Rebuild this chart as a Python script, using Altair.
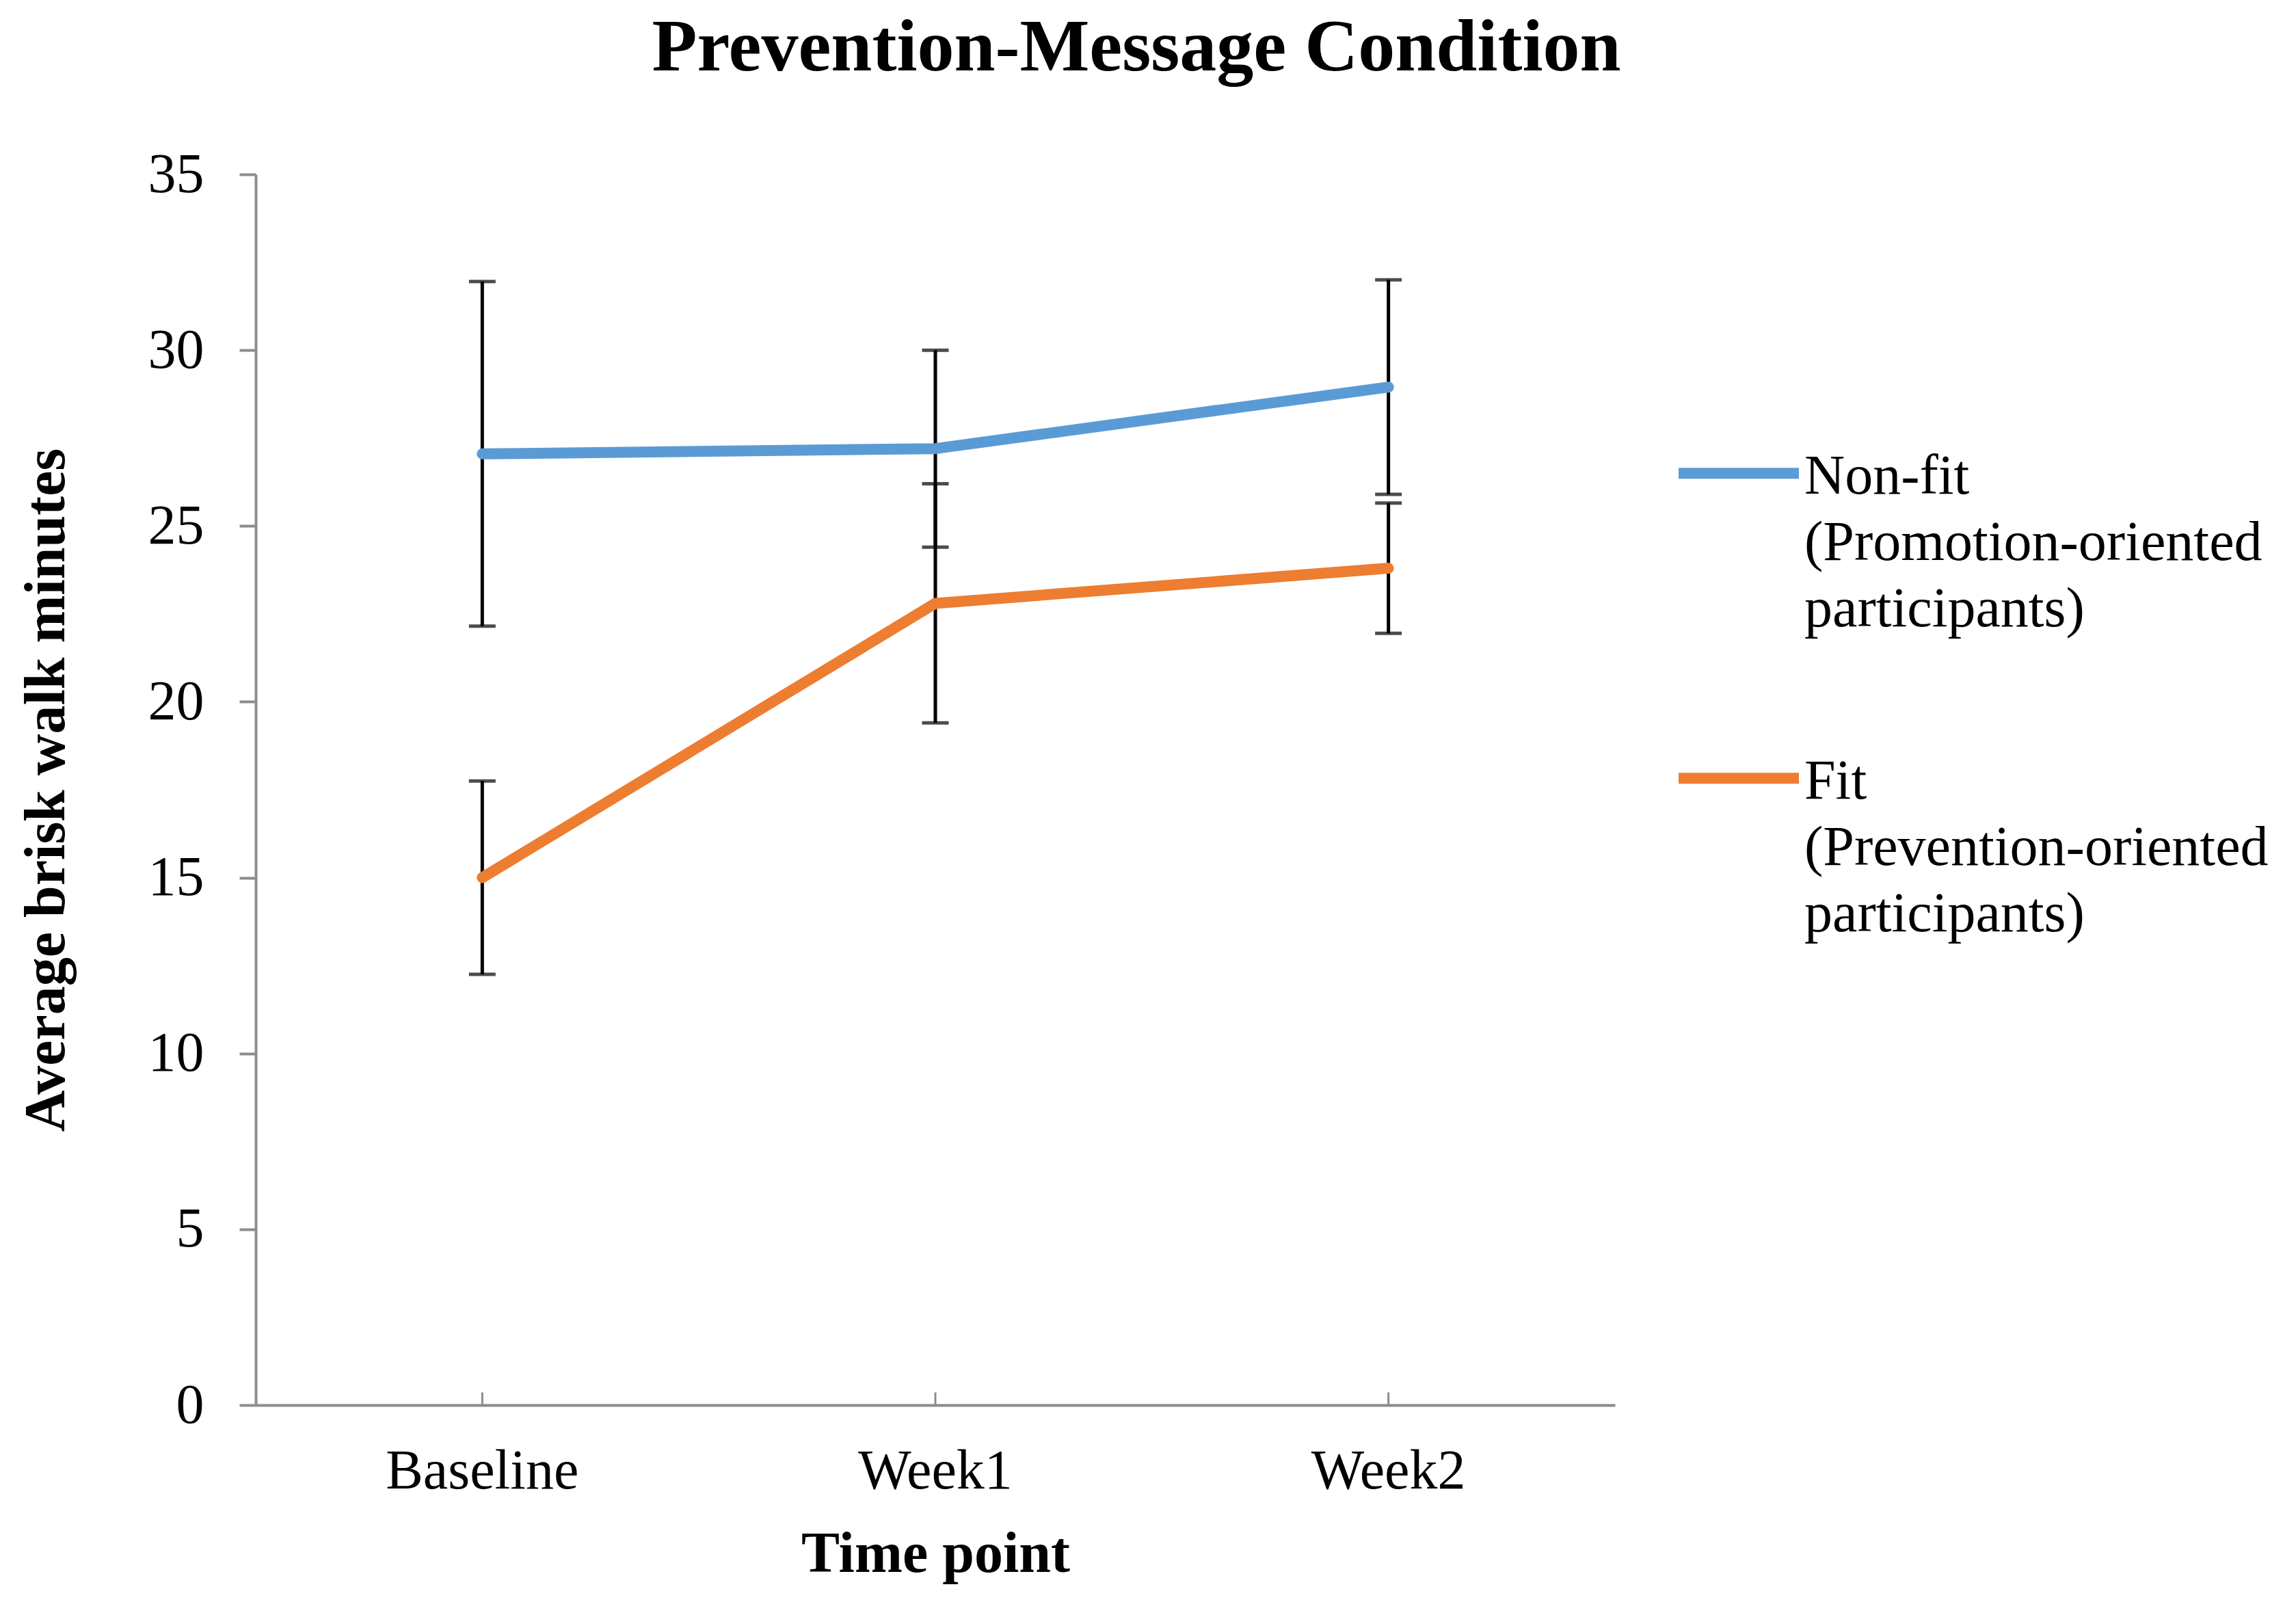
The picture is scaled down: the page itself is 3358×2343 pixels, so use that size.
import altair as alt
import pandas as pd

time_points = ["Baseline", "Week1", "Week2"]
series_names = ["Non-fit\n(Promotion-oriented\nparticipants)", "Fit\n(Prevention-oriented\nparticipants)"]
nonfit_mean = [27.05, 27.2, 28.95]
nonfit_err = [4.9, 2.8, 3.05]
fit_mean = [15.0, 22.8, 23.8]
fit_err = [2.75, 3.4, 1.85]
colors = ["#5B9BD5", "#ED7D31"]
y_ticks = [0, 5, 10, 15, 20, 25, 30, 35]

rows = []
for name, means, errs in [(series_names[0], nonfit_mean, nonfit_err),
                          (series_names[1], fit_mean, fit_err)]:
    for t, m, e in zip(time_points, means, errs):
        rows.append({"time": t, "series": name, "mean": m, "err": e})
df = pd.DataFrame(rows)
ticks_df = pd.DataFrame({"time": time_points, "y0": [0] * 3, "y1": [0.36] * 3})

FONT = "Liberation Serif"
GRAY = "#8C8C8C"

x_enc = alt.X("time:N", sort=time_points,
              scale=alt.Scale(type="band", paddingInner=0, paddingOuter=0),
              axis=alt.Axis(title="Time point", ticks=False, labelAngle=0,
                            labelFont=FONT, labelFontSize=82, labelColor="black",
                            labelLimit=1000,
                            labelPadding=56, titleFont=FONT, titleFontSize=84,
                            titleFontWeight="bold", titleColor="black", titlePadding=40,
                            domainColor=GRAY, domainWidth=4))
y_scale = alt.Scale(domain=[0, 35], nice=False, zero=True)
y_axis = alt.Axis(title="Average brisk walk minutes", values=y_ticks, grid=False,
                  labelFont=FONT, labelFontSize=82, labelColor="black", labelPadding=52,
                  tickSize=24, tickWidth=4, tickColor=GRAY, domainColor=GRAY, domainWidth=4,
                  titleFont=FONT, titleFontSize=84, titleFontWeight="bold",
                  titleColor="black", titlePadding=105, titleLimit=3000)

base = alt.Chart(df)

inner_ticks = alt.Chart(ticks_df).mark_rule(color=GRAY, strokeWidth=3).encode(
    x=x_enc,
    y=alt.Y("y0:Q", scale=y_scale, axis=y_axis),
    y2="y1:Q",
)

err = base.transform_calculate(lo="datum.mean - datum.err", hi="datum.mean + datum.err")
err_rule = err.mark_rule(color="black", strokeWidth=5).encode(
    x=x_enc, y=alt.Y("lo:Q", scale=y_scale), y2="hi:Q")
cap_lo = err.mark_tick(color="black", thickness=5, size=39).encode(
    x=x_enc, y=alt.Y("lo:Q", scale=y_scale))
cap_hi = err.mark_tick(color="black", thickness=5, size=39).encode(
    x=x_enc, y=alt.Y("hi:Q", scale=y_scale))

lines = base.mark_line(strokeWidth=16, strokeCap="round", strokeJoin="round").encode(
    x=x_enc,
    y=alt.Y("mean:Q", scale=y_scale),
    color=alt.Color("series:N", sort=series_names,
                    scale=alt.Scale(domain=series_names, range=colors),
                    legend=alt.Legend(
                        title=None, orient="none", legendX=2073, legendY=306,
                        padding=0, symbolType="M-1,0.4L1,0.4", symbolSize=30976,
                        symbolStrokeWidth=16, labelFont=FONT, labelFontSize=82,
                        labelColor="black", labelLimit=2000, labelOffset=0,
                        labelBaseline="top", rowPadding=75,
                        labelExpr="split(datum.label, '\\n')")),
)

chart = alt.layer(inner_ticks, err_rule, cap_lo, cap_hi, lines).properties(
    width=1988, height=1800,
    autosize=alt.AutoSizeParams(type="none"),
    padding={"left": 366, "top": 247, "right": 980, "bottom": 270},
    title=alt.TitleParams("Prevention-Message Condition", font=FONT, fontSize=108,
                          fontWeight="bold", color="black", anchor="middle",
                          dx=294, offset=3, baseline="alphabetic"),
).configure(style={"guide-label": {"lineHeight": 97}}).configure_view(stroke=None)

chart.save("out.html", embed_options={"renderer": "svg", "actions": False})
